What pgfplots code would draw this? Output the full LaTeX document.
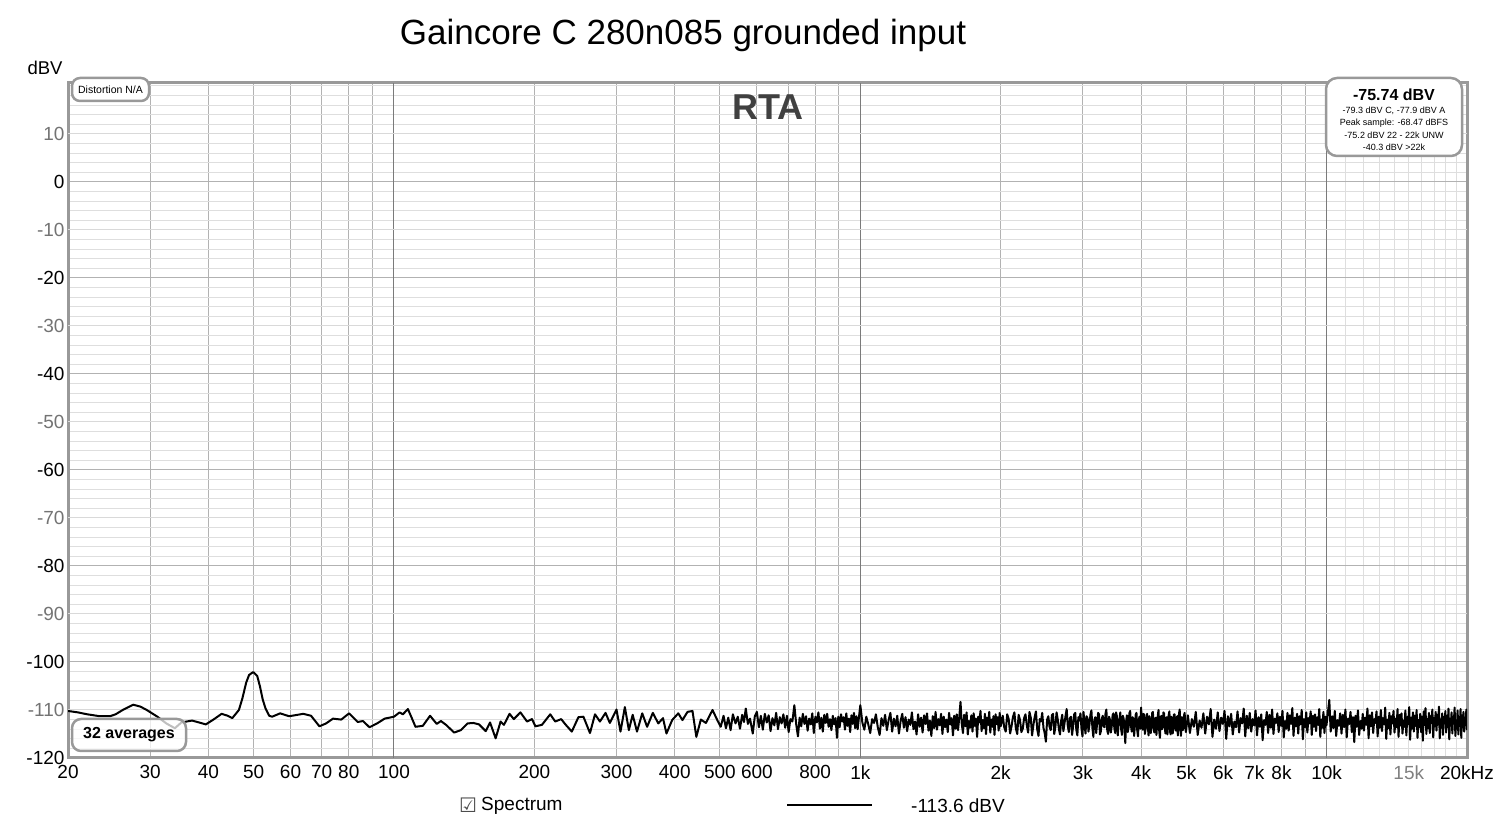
\documentclass[border=0pt]{standalone}
\usepackage{pgfplots}
\pgfplotsset{compat=1.18}
\usepackage{fontspec}
\setmainfont{Liberation Sans}
\newfontfamily\dejavu{DejaVu Sans}
\begin{document}
\begin{tikzpicture}[x=1pt,y=1pt]
\useasboundingbox (0,0) rectangle (1500,825);
\begin{axis}[
  at={(68pt,67pt)}, anchor=south west,
  scale only axis, width=1399pt, height=675pt,
  xmode=log, xmin=20, xmax=20000, ymin=-120, ymax=20.6,
  clip mode=individual,
  axis line style={black!40, line width=3pt},
  major tick length=0pt, minor tick length=0pt,
  tick label style={font=\fontsize{19}{22}\selectfont},
  xticklabel style={yshift=-4pt},
  grid=both,
  major grid style={black!30, line width=1pt},
  minor grid style={black!13, line width=1pt},
  xtick={20,30,40,50,60,70,80,90,200,300,400,500,600,700,800,900,2000,3000,4000,5000,6000,7000,8000,9000,20000},
  xticklabels={20,30,40,50,60,70,80,{},200,300,400,500,600,{},800,{},2k,3k,4k,5k,6k,7k,8k,{},20kHz},
  minor xtick={11000,12000,13000,14000,15000,16000,17000,18000,19000},
  extra x ticks={100,1000,10000},
  extra x tick labels={100,1k,10k},
  extra x tick style={grid=major, major grid style={black!52, line width=1pt}},
  ytick={-120,-100,-80,-60,-40,-20,0},
  yticklabels={-120,-100,-80,-60,-40,-20,0},
  minor ytick={-118,-116,-114,-112,-108,-106,-104,-102,-98,-96,-94,-92,-88,-86,-84,-82,-78,-76,-74,-72,-68,-66,-64,-62,-58,-56,-54,-52,-48,-46,-44,-42,-38,-36,-34,-32,-28,-26,-24,-22,-18,-16,-14,-12,-8,-6,-4,-2,2,4,6,8,12,14,16,18,20},
  extra y ticks={-110,-90,-70,-50,-30,-10,10},
  extra y tick labels={-110,-90,-70,-50,-30,-10,10},
  extra y tick style={grid=major, major grid style={black!15, line width=1pt}, yticklabel style={text=black!55}},
]
\addplot[black, line width=2pt, line join=round] coordinates {
(20,-110.2)(21,-110.5)(22,-110.9)(23.4,-111.3)(24.6,-111.3)(25.3,-110.9)(26.2,-110.0)(27.6,-108.9)(28.6,-109.3)(29.5,-110.0)
(31.1,-111.4)(32.5,-112.8)(33.9,-113.8)(35.0,-112.6)(36.9,-112.2)(38.2,-112.6)(39.5,-113.0)(41.0,-112.0)(42.7,-110.8)(44.0,-111.2)
(45.0,-111.7)(46.5,-110.0)(47.3,-107.6)(48.2,-104.3)(48.9,-102.7)(49.9,-102.1)(50.9,-102.9)(51.6,-105.1)(52.3,-107.8)(53.0,-109.6)(54.0,-111.2)(54.8,-111.4)(57.0,-110.7)
(59.6,-111.3)(63.9,-110.8)(66.4,-111.2)(69.2,-113.4)(71.5,-112.8)(74.0,-111.8)(77.1,-112.0)(80.1,-110.7)(83.6,-112.5)(85.8,-112.3)
(88.6,-113.6)(92.0,-112.8)(95.5,-111.8)(100,-111.4)(102.8,-110.5)(104.5,-110.9)(107.1,-109.8)(109,-111.5)(111.2,-113.5)(115.3,-113.3)
(119.5,-111.2)(123.5,-112.9)(126.1,-112.3)(129.3,-113.1)(134.6,-114.7)(139.1,-114.2)(143.8,-112.8)(148,-112.7)(152.2,-113.0)(157.3,-114.4)
(160.7,-112.6)(165.2,-115.9)(169.3,-112.4)(172.1,-113.1)(176.9,-110.8)(180.7,-111.9)(186.7,-110.5)(192.9,-112.4)(197.7,-111.9)(201,-113.4)
(207.6,-113.1)(216.3,-110.9)(221.7,-112.4)(228.3,-111.9)(233.6,-113.1)(240.6,-114.5)(248.6,-111.5)(254.8,-111.4)(263.2,-114.8)(269.8,-110.9)
(276.5,-112.4)(284.2,-110.6)(290.3,-112.7)(300,-109.9)(306,-114.5)(312.7,-109.4)(318.9,-114.2)(325,-111.0)(332,-114.5)(340.7,-110.7)
(349,-113.5)(359,-110.6)(368.8,-112.8)(377.5,-111.7)(384,-114.9)(395,-112.1)(407,-110.7)(415.5,-112.1)(426,-110.4)(436.6,-110.2)
(445,-115.6)(455,-112.0)(466.5,-112.7)(482,-110.0)(494,-112.2)
(502,-113.5)(509,-111.2)(515,-113.8)(521,-111.6)(527,-114.2)(533,-110.9)(540,-112.8)(546,-111.4)(552,-113.9)(558,-111.0)
(563,-112.5)(568,-109.7)(574,-112.9)(580,-111.8)(588,-114.9)(594,-111.3)(600,-110.4)(606,-113.6)(612,-111.2)(618,-114.1)
(624,-110.8)(630,-112.6)(636,-111.1)(642,-114.4)(648,-111.7)(654,-113.2)(660,-110.6)(666,-114.0)(672,-111.5)(678,-112.8)
(684,-110.9)(690,-113.7)(696,-111.2)(702,-114.6)(708,-111.9)(715,-112.4)(722,-109.0)(729,-113.1)(735,-115.5)(741,-111.6)
(747,-113.4)(753,-110.8)(759,-112.9)(765,-111.3)(771,-114.3)(777,-111.8)(783,-113.0)(789,-110.7)(795,-114.8)(801,-111.4)
(807,-112.6)(813,-110.5)(819,-113.9)(825,-111.6)(831,-114.5)(837,-111.0)(843,-112.7)(849,-110.8)(855,-113.5)(861,-111.9)
(867,-114.2)(873,-111.2)(879,-113.0)(885,-111.7)(891,-115.8)(897,-111.4)(903,-113.6)(909,-110.9)(915,-112.4)(921,-111.5)
(927,-114.1)(933,-110.7)(939,-113.3)(945,-111.8)(951,-114.6)(957,-111.1)(963,-112.9)(969,-110.6)(975,-113.8)(981,-111.3)
(987,-114.0)(993,-111.6)(1000,-109.0)
(1010,-112.6)(1020,-114.1)(1030,-111.4)(1040,-113.0)(1050,-114.8)(1060,-111.9)(1070,-112.7)(1080,-110.9)(1090,-113.6)(1100,-115.2)
(1110,-111.7)(1120,-113.3)(1130,-111.0)(1140,-114.2)(1150,-112.1)(1160,-110.6)(1170,-114.5)(1180,-111.8)(1190,-113.4)(1200,-111.2)
(1210,-114.9)(1220,-112.3)(1230,-110.8)(1240,-113.7)(1250,-111.5)(1260,-114.4)(1270,-112.0)(1280,-113.1)(1290,-110.5)(1300,-114.0)
(1310,-112.4)(1320,-115.1)(1330,-110.9)(1340,-113.5)(1350,-111.6)(1360,-114.7)(1370,-111.1)(1380,-112.9)(1390,-110.7)(1400,-114.3)
(1410,-112.2)(1420,-115.4)(1430,-111.3)(1440,-113.8)(1450,-110.4)(1460,-114.1)(1470,-111.9)(1480,-113.2)(1490,-110.8)(1500,-115.0)
(1510,-111.4)(1520,-113.6)(1530,-112.0)(1540,-114.6)(1550,-110.6)(1560,-113.0)(1570,-111.7)(1580,-115.3)(1590,-111.2)(1600,-113.9)
(1610,-110.9)(1620,-114.2)(1630,-111.5)(1640,-108.3)(1650,-112.8)(1660,-114.8)(1670,-111.0)(1680,-113.4)(1690,-110.5)(1700,-115.1)
(1710,-112.3)(1720,-113.7)(1730,-111.1)(1740,-114.5)(1750,-110.7)(1760,-113.3)(1770,-111.8)(1780,-115.6)(1790,-111.4)(1800,-112.6)
(1810,-110.2)(1820,-114.4)(1830,-112.1)(1840,-113.8)(1850,-110.8)(1860,-115.0)(1870,-111.6)(1880,-113.1)(1890,-110.4)(1900,-114.7)
(1910,-112.0)(1920,-113.5)(1930,-111.3)(1940,-115.2)(1950,-110.9)(1960,-112.9)(1970,-111.5)(1980,-114.3)(1990,-110.6)(2000,-113.4)
(2020,-111.2)(2035,-113.6)(2050,-114.5)(2065,-110.9)(2080,-111.8)(2095,-114.9)(2110,-113.4)(2125,-111.4)(2140,-110.5)(2155,-113.8)
(2170,-115.0)(2185,-111.0)(2200,-112.1)(2215,-114.6)(2230,-113.9)(2245,-111.7)(2260,-110.9)(2275,-113.2)(2290,-114.7)(2305,-110.4)
(2320,-111.6)(2335,-115.3)(2350,-113.1)(2365,-111.5)(2380,-110.3)(2395,-114.0)(2410,-115.4)(2425,-111.9)(2440,-112.4)(2455,-110.6)
(2470,-113.7)(2485,-114.8)(2500,-116.6)(2515,-112.0)(2530,-111.3)(2545,-113.5)(2560,-114.2)(2575,-111.1)(2590,-110.8)(2605,-115.0)
(2620,-113.5)(2635,-110.5)(2650,-111.9)(2665,-113.9)(2680,-115.1)(2695,-112.3)(2710,-111.0)(2725,-114.4)(2740,-112.8)(2755,-111.2)
(2770,-109.8)(2785,-113.3)(2800,-114.6)(2815,-111.7)(2830,-111.4)(2845,-115.2)(2860,-113.3)(2875,-110.9)(2890,-110.6)(2905,-114.1)
(2920,-115.3)(2935,-111.5)(2950,-112.2)(2965,-110.7)(2980,-113.8)(2995,-115.5)(3010,-110.4)(3025,-112.9)(3040,-114.9)(3055,-111.3)
(3070,-111.7)(3085,-114.5)(3100,-113.0)(3115,-111.0)(3130,-110.1)(3145,-113.7)(3160,-115.6)(3175,-112.1)(3190,-111.5)(3205,-114.8)
(3220,-112.7)(3235,-110.6)(3250,-110.9)(3265,-115.1)(3280,-114.4)(3295,-111.8)(3310,-111.2)(3325,-113.4)(3340,-113.6)(3355,-110.8)
(3370,-109.9)(3385,-114.3)(3400,-115.0)(3415,-111.4)(3430,-112.0)(3445,-114.7)(3460,-113.4)(3475,-111.1)(3490,-110.7)(3505,-113.8)
(3520,-114.8)(3535,-110.5)(3550,-111.3)(3565,-115.3)(3580,-112.9)(3595,-111.9)(3610,-110.5)(3625,-114.0)(3640,-115.2)(3655,-111.2)
(3670,-111.8)(3685,-113.6)(3700,-116.9)(3715,-112.4)(3730,-111.1)(3745,-114.6)(3760,-113.7)(3775,-110.7)(3790,-110.2)(3805,-113.3)
(3820,-114.5)(3835,-111.5)(3850,-111.9)(3865,-115.4)(3880,-113.2)(3895,-111.0)(3910,-110.6)(3925,-114.2)(3940,-115.5)(3955,-112.0)
(3970,-111.4)(3985,-113.9)(4000,-109.5)(4015,-112.7)(4030,-114.1)(4045,-110.8)(4060,-111.0)(4075,-115.0)(4090,-113.9)(4105,-111.6)
(4120,-110.8)(4135,-113.4)(4150,-115.3)(4165,-111.3)(4180,-112.3)(4195,-114.8)(4210,-113.5)(4225,-110.6)(4240,-110.4)(4255,-113.7)
(4270,-114.7)(4285,-111.9)(4300,-111.6)(4315,-115.2)(4330,-112.8)(4345,-111.1)(4360,-110.0)(4375,-114.4)(4390,-115.8)(4405,-112.2)
(4420,-111.2)(4435,-114.0)(4450,-113.6)(4465,-110.5)(4480,-110.7)(4495,-113.2)(4510,-114.9)(4525,-111.7)(4540,-111.5)(4555,-115.1)
(4570,-113.1)(4585,-111.0)(4600,-110.3)(4615,-114.5)(4630,-115.1)(4645,-111.4)(4660,-112.0)(4675,-114.9)(4690,-113.8)(4705,-110.9)
(4720,-110.9)(4735,-113.5)(4750,-114.3)(4765,-112.1)(4780,-111.3)(4795,-115.3)(4810,-112.6)(4825,-110.7)(4840,-109.9)(4855,-113.9)
(4870,-115.4)(4885,-111.5)(4900,-111.7)(4915,-114.2)(4930,-113.3)(4945,-111.1)(4960,-110.6)(4975,-113.6)(4990,-114.6)
(5040,-111.1)(5090,-114.8)(5140,-111.9)(5190,-113.5)(5240,-110.4)(5290,-115.2)(5340,-112.2)(5390,-113.7)(5440,-110.7)(5490,-114.9)
(5540,-111.4)(5590,-113.0)(5640,-109.8)(5690,-115.6)(5740,-112.0)(5790,-113.9)(5840,-110.5)(5890,-114.4)(5940,-111.6)(5990,-112.9)
(6040,-110.2)(6090,-116.0)(6140,-111.3)(6190,-113.4)(6240,-110.8)(6290,-115.1)(6340,-112.4)(6390,-113.6)(6440,-110.3)(6490,-114.7)
(6540,-111.7)(6590,-112.8)(6640,-109.7)(6690,-115.5)(6740,-111.2)(6790,-113.8)(6840,-110.6)(6890,-114.5)(6940,-111.9)(6990,-113.2)
(7040,-110.1)(7090,-115.3)(7140,-111.5)(7190,-113.5)(7240,-110.9)(7290,-116.3)(7340,-112.1)(7390,-113.1)(7440,-110.4)(7490,-114.8)
(7540,-111.0)(7590,-113.7)(7640,-109.9)(7690,-115.0)(7740,-111.8)(7790,-112.7)(7840,-110.7)(7890,-114.6)(7940,-111.4)(7990,-113.3)
(8040,-110.2)(8090,-115.7)(8140,-112.3)(8190,-113.9)(8240,-110.6)(8290,-114.3)(8340,-111.1)(8390,-112.9)(8440,-109.6)(8490,-115.4)
(8540,-111.6)(8590,-113.4)(8640,-110.8)(8690,-114.9)(8740,-111.3)(8790,-113.0)(8840,-110.0)(8890,-116.1)(8940,-111.9)(8990,-113.6)
(9040,-110.5)(9090,-114.7)(9140,-111.7)(9190,-112.8)(9240,-110.3)(9290,-115.2)(9340,-111.2)(9390,-113.5)(9440,-110.9)(9490,-114.4)
(9540,-111.5)(9590,-113.1)(9640,-109.8)(9690,-115.6)(9740,-112.0)(9790,-113.7)(9840,-110.4)(9890,-114.8)(9940,-111.4)(9990,-113.2)
(10060,-110.6)(10130,-107.9)(10200,-114.5)(10270,-111.3)(10340,-113.8)(10410,-110.2)(10480,-115.4)(10550,-112.1)(10620,-113.3)(10690,-110.7)
(10760,-114.9)(10830,-111.0)(10900,-113.6)(10970,-109.9)(11040,-115.7)(11110,-111.8)(11180,-112.9)(11250,-110.4)(11320,-114.6)(11390,-111.5)
(11460,-116.7)(11530,-111.2)(11600,-113.5)(11670,-110.1)(11740,-115.2)(11810,-112.3)(11880,-113.9)(11950,-110.8)(12020,-114.3)(12090,-111.6)
(12160,-113.1)(12230,-109.7)(12300,-115.9)(12370,-111.1)(12440,-113.4)(12510,-110.5)(12580,-114.8)(12650,-111.9)(12720,-112.7)(12790,-110.3)
(12860,-115.5)(12930,-111.4)(13000,-113.7)(13070,-110.0)(13140,-114.4)(13210,-111.7)(13280,-113.0)(13350,-109.5)(13420,-116.0)(13490,-112.0)
(13560,-113.8)(13630,-110.6)(13700,-115.1)(13770,-111.3)(13840,-112.8)(13910,-110.2)(13980,-114.7)(14050,-111.8)(14120,-113.6)(14190,-109.8)
(14260,-115.6)(14330,-111.0)(14400,-113.2)(14470,-110.7)(14540,-114.9)(14610,-112.2)(14680,-113.5)(14750,-110.1)(14820,-115.3)(14890,-111.5)
(14960,-112.9)(15030,-109.4)(15100,-116.2)(15170,-111.6)(15240,-113.9)(15310,-110.5)(15380,-114.5)(15450,-111.2)(15520,-113.3)(15590,-110.0)
(15660,-115.8)(15730,-112.1)(15800,-113.6)(15870,-110.8)(15940,-114.6)(16010,-111.4)(16080,-116.4)(16150,-110.3)(16220,-113.1)(16290,-109.6)
(16360,-115.0)(16430,-111.9)(16500,-113.8)(16570,-110.6)(16640,-114.8)(16710,-111.3)(16780,-112.7)(16850,-109.9)(16920,-115.7)(16990,-111.7)
(17060,-113.4)(17130,-110.4)(17200,-114.3)(17270,-111.0)(17340,-113.0)(17410,-109.3)(17480,-115.9)(17550,-112.0)(17620,-113.7)(17690,-110.7)
(17760,-115.2)(17830,-111.5)(17900,-112.8)(17970,-110.2)(18040,-114.7)(18110,-111.2)(18180,-113.5)(18250,-109.7)(18320,-116.1)(18390,-111.8)
(18460,-113.2)(18530,-110.5)(18600,-114.9)(18670,-111.4)(18740,-112.6)(18810,-109.5)(18880,-115.4)(18950,-112.2)(19020,-113.9)(19090,-110.1)
(19160,-115.1)(19230,-111.6)(19300,-113.3)(19370,-109.8)(19440,-115.8)(19510,-111.1)(19580,-113.6)(19650,-110.4)(19720,-114.5)(19790,-111.9)
(19860,-113.0)(19930,-109.9)(20000,-114.2)
};
\node[anchor=north, yshift=-4pt, text=black!50, font=\fontsize{19}{22}\selectfont] at (axis cs:15000,-120) {15k};
\end{axis}
% title and labels
\node[font=\fontsize{35}{40}\selectfont] at (683,790) {Gaincore C 280n085 grounded input};
\node[font=\fontsize{18.5}{22}\selectfont] at (45,757) {dBV};
\node[font=\fontsize{36}{40}\selectfont\bfseries, text=black!75] at (768,718) {RTA};
% Distortion box
\node[draw=black!40, line width=2.5pt, rounded corners=8pt, fill=white, minimum width=77pt, minimum height=23pt, inner sep=1pt, font=\fontsize{10.5}{12}\selectfont] at (110.5,735.5) {Distortion N/A};
% averages box
\node[draw=black!40, line width=2.5pt, rounded corners=9pt, fill=white, fill opacity=0.75, text opacity=1, minimum width=114pt, minimum height=32pt, inner sep=1pt, font=\fontsize{16}{18}\selectfont\bfseries] at (129,90) {32 averages};
% right info box
\draw[black!40, line width=2.5pt, rounded corners=11pt, fill=white] (1326,747) rectangle (1462,669);
\node[font=\fontsize{16}{18}\selectfont\bfseries] at (1394,730) {-75.74 dBV};
\node[font=\fontsize{9}{10}\selectfont] at (1394,714) {-79.3 dBV C, -77.9 dBV A};
\node[font=\fontsize{9}{10}\selectfont] at (1394,702) {Peak sample: -68.47 dBFS};
\node[font=\fontsize{9}{10}\selectfont] at (1394,690) {-75.2 dBV 22 - 22k UNW};
\node[font=\fontsize{9}{10}\selectfont] at (1394,678) {-40.3 dBV >22k};
% legend
\node[font=\dejavu\fontsize{20}{22}\selectfont, text=black!70] at (468,20) {☑};
\node[anchor=west, font=\fontsize{19}{22}\selectfont, inner sep=0pt] at (481,19) {Spectrum};
\draw[black, line width=1.5pt] (787,20) -- (872,20);
\node[anchor=west, font=\fontsize{19}{22}\selectfont, inner sep=0pt] at (911,19) {-113.6 dBV};
\end{tikzpicture}
\end{document}
